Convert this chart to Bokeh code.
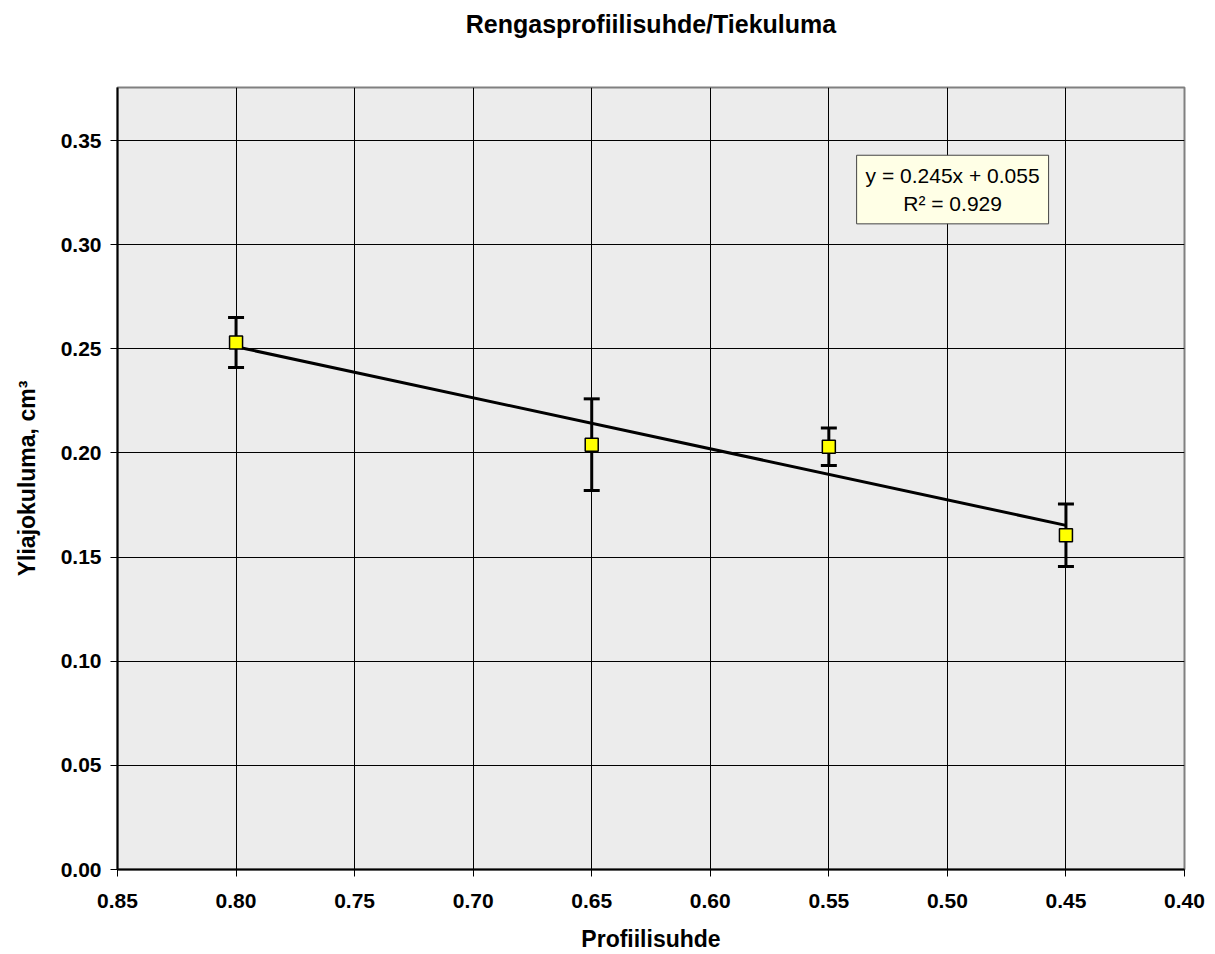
from bokeh.plotting import figure
from bokeh.models import (Range1d, FixedTicker, NumeralTickFormatter, ColumnDataSource,
                          Whisker, TeeHead, Label, LinearAxis)
from bokeh.embed import file_html
from bokeh.resources import INLINE

# data
profiili = [0.80, 0.65, 0.55, 0.45]
kuluma = [0.253, 0.204, 0.203, 0.1605]
virhe = [0.012, 0.022, 0.009, 0.015]
slope = 0.245
intercept = 0.055
r2 = 0.929
x_ticks = [0.85, 0.80, 0.75, 0.70, 0.65, 0.60, 0.55, 0.50, 0.45, 0.40]
y_ticks = [0.00, 0.05, 0.10, 0.15, 0.20, 0.25, 0.30, 0.35]
title_text = "Rengasprofiilisuhde/Tiekuluma"
x_label = "Profiilisuhde"
y_label = "Yliajokuluma, cm³"

FONT = "Liberation Sans"

p = figure(width=1215, height=954, output_backend="svg", toolbar_location=None,
           x_range=Range1d(0.85, 0.40), y_range=Range1d(0.0, 0.3755),
           min_border_left=117, min_border_right=31, min_border_top=87, min_border_bottom=84)

p.background_fill_color = "#ececec"
p.border_fill_color = "white"
p.outline_line_color = "#808080"
p.outline_line_width = 2

for ax in (p.xaxis[0], p.yaxis[0]):
    ax.major_label_text_font = FONT
    ax.major_label_text_font_size = "21px"
    ax.major_label_text_font_style = "bold"
    ax.major_label_text_color = "black"
    ax.axis_label_text_font = FONT
    ax.axis_label_text_font_size = "23px"
    ax.axis_label_text_font_style = "bold"
    ax.axis_label_text_color = "black"
    ax.axis_line_color = "black"
    ax.axis_line_width = 2
    ax.major_tick_in = 0
    ax.major_tick_out = 7
    ax.major_tick_line_color = "black"
    ax.minor_tick_line_color = None
    ax.formatter = NumeralTickFormatter(format="0.00")

p.xaxis.ticker = FixedTicker(ticks=x_ticks)
p.yaxis.ticker = FixedTicker(ticks=y_ticks)
p.xaxis.major_label_standoff = 17
p.yaxis.major_label_standoff = 9
p.xaxis.axis_label = x_label
p.yaxis.axis_label = y_label
p.xaxis.axis_label_standoff = 15
p.yaxis.axis_label_standoff = 18

# chart title drawn as the label of an otherwise empty axis above the frame
title_axis = LinearAxis(ticker=FixedTicker(ticks=[]), axis_label=title_text,
                        axis_line_color=None, major_tick_out=0, major_tick_in=0,
                        minor_tick_line_color=None, major_label_standoff=0,
                        axis_label_standoff=50,
                        axis_label_text_font=FONT, axis_label_text_font_size="25px",
                        axis_label_text_font_style="bold", axis_label_text_color="black")
p.add_layout(title_axis, "above")

p.xgrid.grid_line_color = "black"
p.ygrid.grid_line_color = "black"
p.xgrid.grid_line_width = 1
p.ygrid.grid_line_width = 1

# trend line
tx = [max(profiili), min(profiili)]
ty = [slope * v + intercept for v in tx]
p.line(tx, ty, line_color="black", line_width=3)

src = ColumnDataSource(dict(
    x=profiili, y=kuluma,
    lower=[a - b for a, b in zip(kuluma, virhe)],
    upper=[a + b for a, b in zip(kuluma, virhe)],
))
w = Whisker(source=src, base="x", upper="upper", lower="lower",
            line_color="black", line_width=3,
            upper_head=TeeHead(size=16, line_width=3, line_color="black"),
            lower_head=TeeHead(size=16, line_width=3, line_color="black"))
p.add_layout(w)

p.scatter("x", "y", source=src, marker="square", size=13, fill_color="#ffff00",
          line_color="black", line_width=1.5)

lbl = Label(x=0.4978, y=0.3265,
            text=f"y = {slope:.3f}x + {intercept:.3f}\nR² = {r2:.3f}",
            text_align="center", text_baseline="middle",
            text_font=FONT, text_font_size="21px", text_color="black",
            background_fill_color="#ffffe6", border_line_color="#444444",
            border_line_width=1, padding=9)
p.add_layout(lbl)

open("out.html", "w").write(file_html(p, INLINE))
